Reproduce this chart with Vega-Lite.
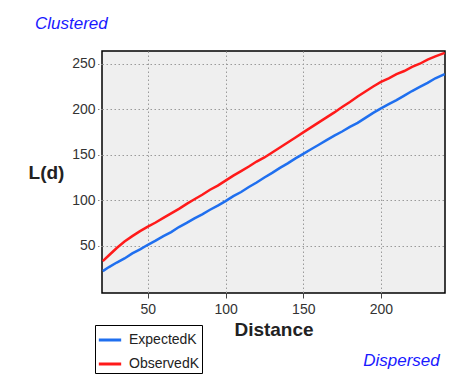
{
  "$schema": "https://vega.github.io/schema/vega-lite/v6.json",
  "width": 343,
  "height": 242,
  "autosize": {"type": "none"},
  "padding": {"left": 102, "top": 51, "right": 7, "bottom": 81},
  "background": "#ffffff",
  "title": {
    "text": "Clustered",
    "anchor": "start",
    "frame": "group",
    "dx": -67,
    "offset": 15,
    "font": "Liberation Sans",
    "fontSize": 17,
    "fontStyle": "italic",
    "fontWeight": "normal",
    "color": "#1a1aff"
  },
  "datasets": {
    "k": [
      {"d": 21, "series": "ExpectedK", "L": 22}, {"d": 25, "series": "ExpectedK", "L": 26.5}, {"d": 30, "series": "ExpectedK", "L": 31.5},
      {"d": 35, "series": "ExpectedK", "L": 36}, {"d": 40, "series": "ExpectedK", "L": 41.5}, {"d": 45, "series": "ExpectedK", "L": 46},
      {"d": 50, "series": "ExpectedK", "L": 51}, {"d": 55, "series": "ExpectedK", "L": 55.5}, {"d": 60, "series": "ExpectedK", "L": 60.5},
      {"d": 65, "series": "ExpectedK", "L": 65}, {"d": 70, "series": "ExpectedK", "L": 70.5}, {"d": 75, "series": "ExpectedK", "L": 75},
      {"d": 80, "series": "ExpectedK", "L": 80}, {"d": 85, "series": "ExpectedK", "L": 84.5}, {"d": 90, "series": "ExpectedK", "L": 89.5},
      {"d": 95, "series": "ExpectedK", "L": 94}, {"d": 100, "series": "ExpectedK", "L": 99}, {"d": 105, "series": "ExpectedK", "L": 104.5},
      {"d": 110, "series": "ExpectedK", "L": 109}, {"d": 115, "series": "ExpectedK", "L": 114.5}, {"d": 120, "series": "ExpectedK", "L": 119.5},
      {"d": 125, "series": "ExpectedK", "L": 125}, {"d": 130, "series": "ExpectedK", "L": 130}, {"d": 135, "series": "ExpectedK", "L": 135.5},
      {"d": 140, "series": "ExpectedK", "L": 140.5}, {"d": 145, "series": "ExpectedK", "L": 146}, {"d": 150, "series": "ExpectedK", "L": 151},
      {"d": 155, "series": "ExpectedK", "L": 156}, {"d": 160, "series": "ExpectedK", "L": 161}, {"d": 165, "series": "ExpectedK", "L": 166},
      {"d": 170, "series": "ExpectedK", "L": 171}, {"d": 175, "series": "ExpectedK", "L": 175.5}, {"d": 180, "series": "ExpectedK", "L": 180.5},
      {"d": 185, "series": "ExpectedK", "L": 185}, {"d": 190, "series": "ExpectedK", "L": 190.5}, {"d": 195, "series": "ExpectedK", "L": 196},
      {"d": 200, "series": "ExpectedK", "L": 201}, {"d": 205, "series": "ExpectedK", "L": 205.5}, {"d": 210, "series": "ExpectedK", "L": 210},
      {"d": 215, "series": "ExpectedK", "L": 215}, {"d": 220, "series": "ExpectedK", "L": 220}, {"d": 225, "series": "ExpectedK", "L": 224.5},
      {"d": 230, "series": "ExpectedK", "L": 229}, {"d": 235, "series": "ExpectedK", "L": 234}, {"d": 241, "series": "ExpectedK", "L": 238.5},
      {"d": 21, "series": "ObservedK", "L": 33}, {"d": 25, "series": "ObservedK", "L": 39.5}, {"d": 30, "series": "ObservedK", "L": 47.5},
      {"d": 35, "series": "ObservedK", "L": 54.5}, {"d": 40, "series": "ObservedK", "L": 60.5}, {"d": 45, "series": "ObservedK", "L": 66},
      {"d": 50, "series": "ObservedK", "L": 71}, {"d": 55, "series": "ObservedK", "L": 75.5}, {"d": 60, "series": "ObservedK", "L": 80.5},
      {"d": 65, "series": "ObservedK", "L": 85.5}, {"d": 70, "series": "ObservedK", "L": 90.5}, {"d": 75, "series": "ObservedK", "L": 96},
      {"d": 80, "series": "ObservedK", "L": 101}, {"d": 85, "series": "ObservedK", "L": 106}, {"d": 90, "series": "ObservedK", "L": 111.5},
      {"d": 95, "series": "ObservedK", "L": 116}, {"d": 100, "series": "ObservedK", "L": 121.5}, {"d": 105, "series": "ObservedK", "L": 127},
      {"d": 110, "series": "ObservedK", "L": 132}, {"d": 115, "series": "ObservedK", "L": 137}, {"d": 120, "series": "ObservedK", "L": 142.5},
      {"d": 125, "series": "ObservedK", "L": 147}, {"d": 130, "series": "ObservedK", "L": 152.5}, {"d": 135, "series": "ObservedK", "L": 158},
      {"d": 140, "series": "ObservedK", "L": 163.5}, {"d": 145, "series": "ObservedK", "L": 169}, {"d": 150, "series": "ObservedK", "L": 174.5},
      {"d": 155, "series": "ObservedK", "L": 180}, {"d": 160, "series": "ObservedK", "L": 185.5}, {"d": 165, "series": "ObservedK", "L": 191},
      {"d": 170, "series": "ObservedK", "L": 196.5}, {"d": 175, "series": "ObservedK", "L": 202.5}, {"d": 180, "series": "ObservedK", "L": 208},
      {"d": 185, "series": "ObservedK", "L": 214}, {"d": 190, "series": "ObservedK", "L": 219.5}, {"d": 195, "series": "ObservedK", "L": 225},
      {"d": 200, "series": "ObservedK", "L": 230}, {"d": 205, "series": "ObservedK", "L": 234}, {"d": 210, "series": "ObservedK", "L": 238.5},
      {"d": 215, "series": "ObservedK", "L": 242}, {"d": 220, "series": "ObservedK", "L": 246.5}, {"d": 225, "series": "ObservedK", "L": 250},
      {"d": 230, "series": "ObservedK", "L": 254.5}, {"d": 235, "series": "ObservedK", "L": 258}, {"d": 241, "series": "ObservedK", "L": 262}
    ]
  },
  "data": {"name": "k"},
  "encoding": {
    "x": {
      "field": "d",
      "type": "quantitative",
      "scale": {"domain": [20.5, 241.2], "nice": false, "zero": false},
      "axis": {
        "title": "Distance",
        "values": [50, 100, 150, 200],
        "titleFontSize": 19,
        "titleFontWeight": "bold",
        "titlePadding": 4,
        "labelPadding": 4
      }
    },
    "y": {
      "field": "L",
      "type": "quantitative",
      "scale": {"domain": [-2, 264], "nice": false, "zero": false}
    },
    "color": {
      "field": "series",
      "type": "nominal",
      "scale": {"domain": ["ExpectedK", "ObservedK"], "range": ["#1f6fef", "#ff1a1a"]},
      "legend": {
        "title": null,
        "orient": "none",
        "legendX": -7,
        "legendY": 274,
        "direction": "vertical",
        "symbolType": "stroke",
        "symbolStrokeWidth": 3,
        "symbolSize": 500,
        "labelFontSize": 14,
        "labelFont": "Liberation Sans",
        "labelColor": "#222222",
        "rowPadding": 4,
        "padding": 2,
        "strokeColor": "#000000",
        "fillColor": "#ffffff",
        "labelOffset": 6
      }
    }
  },
  "layer": [
    {
      "transform": [{"filter": "datum.series === 'ExpectedK'"}],
      "mark": {"type": "line", "strokeWidth": 2.5},
      "encoding": {
        "y": {
          "field": "L",
          "type": "quantitative",
          "axis": {
            "orient": "left",
            "title": "L(d)",
            "values": [50, 100, 150, 200, 250],
            "titleAngle": 0,
            "titleFontSize": 19,
            "titleFontWeight": "bold",
            "titleAlign": "center",
            "titleBaseline": "middle",
            "titleX": -56,
            "titleY": 121,
            "tickDash": [1.5, 1.5],
            "tickColor": "#888888"
          }
        }
      }
    },
    {
      "transform": [{"filter": "datum.series === 'ObservedK'"}],
      "mark": {"type": "line", "strokeWidth": 2.5},
      "encoding": {
        "y": {
          "field": "L",
          "type": "quantitative",
          "axis": {
            "orient": "right",
            "title": "Dispersed",
            "grid": false,
            "labels": false,
            "ticks": false,
            "domain": false,
            "titleAngle": 0,
            "titleFont": "Liberation Sans",
            "titleFontSize": 17,
            "titleFontStyle": "italic",
            "titleFontWeight": "normal",
            "titleColor": "#1a1aff",
            "titleAlign": "center",
            "titleBaseline": "middle",
            "titleX": -44,
            "titleY": 309
          }
        }
      }
    }
  ],
  "resolve": {"axis": {"y": "independent"}},
  "config": {
    "font": "Liberation Sans",
    "view": {"fill": "#efefef", "stroke": "#000000", "strokeWidth": 1.5},
    "axis": {
      "domain": false,
      "grid": true,
      "gridColor": "#9a9a9a",
      "gridDash": [1.5, 2.5],
      "gridWidth": 1,
      "gridOpacity": 1,
      "tickColor": "#444444",
      "tickSize": 5,
      "labelFont": "Liberation Sans",
      "labelFontSize": 14,
      "labelColor": "#333333",
      "titleColor": "#222222",
      "titleFont": "Liberation Sans"
    }
  }
}
